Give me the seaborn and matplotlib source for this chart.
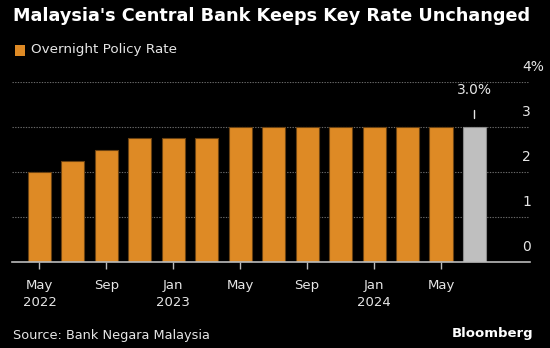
import matplotlib
matplotlib.use("Agg")
import matplotlib.pyplot as plt
import matplotlib.patches as mpatches
import seaborn as sns
import pandas as pd

months = ["May 2022", "Jul 2022", "Sep 2022", "Nov 2022", "Jan 2023", "Mar 2023",
          "May 2023", "Jul 2023", "Sep 2023", "Nov 2023", "Jan 2024", "Mar 2024",
          "May 2024", "Jul 2024"]
rates = [2.00, 2.25, 2.50, 2.75, 2.75, 2.75, 3.00, 3.00, 3.00, 3.00, 3.00, 3.00, 3.00, 3.00]
tick_idx = [0, 2, 4, 6, 8, 10, 12]
tick_labels = ["May\n2022", "Sep", "Jan\n2023", "May", "Sep", "Jan\n2024", "May"]
y_ticks = [0, 1, 2, 3, 4]
y_labels = ["0", "1", "2", "3", "4%"]

ORANGE = "#DE8A25"
GREY = "#BFBFBF"
TXT = "#E6E6E6"

sns.set_theme(style="dark")
plt.rcParams["font.family"] = ["DejaVu Sans"]

df = pd.DataFrame({"month": months, "rate": rates})
colors = [ORANGE] * (len(months) - 1) + [GREY]

fig = plt.figure(figsize=(5.5, 3.48), dpi=100, facecolor="black")
ax = fig.add_axes([12 / 550, (348 - 262) / 348, 518 / 550, (262 - 82) / 348])
ax.set_facecolor("black")

sns.barplot(data=df, x="month", y="rate", hue="month", palette=colors, legend=False,
            width=0.69, ax=ax, saturation=1)
for i, p in enumerate(ax.patches):
    p.set_edgecolor("#6b4212" if i < len(months) - 1 else "#8a8a8a")
    p.set_linewidth(0.8)

ax.set_xlim(-0.82, 14.66)
ax.set_ylim(0, 4)
ax.set_xlabel("")
ax.set_ylabel("")

for s in ["top", "left", "right"]:
    ax.spines[s].set_visible(False)
ax.spines["bottom"].set_color("#BBBBBB")
ax.spines["bottom"].set_linewidth(1.2)

ax.set_xticks(tick_idx)
ax.set_xticklabels(tick_labels, color=TXT, fontsize=9.5, linespacing=1.45)
ax.tick_params(axis="x", length=5, width=1, color="#BBBBBB", pad=7, direction="out", bottom=True)

ax.set_yticks([])
for v in y_ticks[1:]:
    ax.axhline(v, color="#6a6a6a", lw=0.8, ls=(0, (1.2, 1.2)), zorder=0, xmax=516 / 518)
for v, lab in zip(y_ticks, y_labels):
    ax.text(0.985, v + 0.17, lab, transform=ax.get_yaxis_transform(), ha="left",
            va="bottom", color=TXT, fontsize=10)
ax.grid(False)

# annotation on last bar
last = len(months) - 1
ax.plot([last, last], [3.2, 3.38], color=TXT, lw=1, clip_on=False)
ax.text(last, 3.82, f"{rates[-1]:.1f}%", ha="center", va="center", color=TXT, fontsize=10)

fig.text(13 / 550, 1 - 16 / 348, "Malaysia's Central Bank Keeps Key Rate Unchanged",
         color="white", fontsize=12.7, fontweight="heavy", va="center", ha="left")
fig.patches.append(mpatches.Rectangle((14.5 / 550, 1 - 55.5 / 348), 10.5 / 550, 10.5 / 348,
                                      transform=fig.transFigure, facecolor=ORANGE,
                                      edgecolor="none"))
fig.text(31 / 550, 1 - 49.5 / 348, "Overnight Policy Rate", color=TXT, fontsize=9.7,
         va="center", ha="left")
fig.text(13 / 550, 1 - 336 / 348, "Source: Bank Negara Malaysia", color=TXT, fontsize=9.3,
         va="center", ha="left")
fig.text(533 / 550, 1 - 334 / 348, "Bloomberg", color="white", fontsize=9.5,
         fontweight="bold", va="center", ha="right")

fig.savefig("out.png", dpi=100, facecolor="black")
